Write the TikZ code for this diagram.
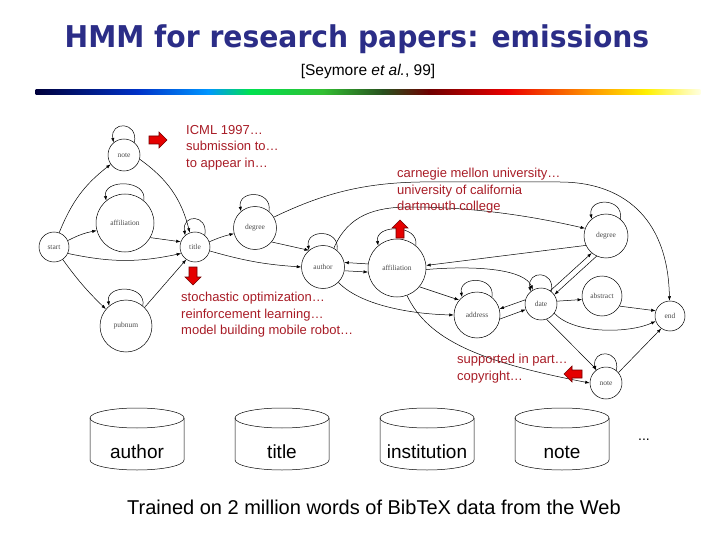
\documentclass[tikz,border=0pt]{standalone}
\usepackage{fontspec}
\setmainfont{Liberation Sans}
\newfontfamily\titrefont{DejaVu Sans}
\newfontfamily\etatfont{Liberation Serif}
\usepackage{xcolor}
\usetikzlibrary{arrows.meta, calc}

\definecolor{titrebleu}{RGB}{43,45,135}
\definecolor{texterouge}{RGB}{168,28,38}
\definecolor{rbA}{RGB}{0,0,60}
\definecolor{rbB}{RGB}{0,50,200}
\definecolor{rbC}{RGB}{0,150,255}
\definecolor{rbD}{RGB}{0,225,80}
\definecolor{rbE}{RGB}{50,190,50}
\definecolor{rbF}{RGB}{40,80,30}
\definecolor{rbG}{RGB}{110,0,0}
\definecolor{rbH}{RGB}{235,0,0}
\definecolor{rbI}{RGB}{255,150,0}
\definecolor{rbJ}{RGB}{255,240,0}
\definecolor{rbK}{RGB}{255,255,225}

% boucle sur un etat
\newcommand{\boucle}[1]{\draw[trans] (#1.50) .. controls +(80:22) and +(100:22) .. (#1.130);}
% fleche rouge (x, y, angle)
\newcommand{\flecherouge}[3]{%
  \filldraw[fill=red!90!black, draw=red!45!black, line width=0.6pt, shift={(#1,#2)}, rotate=#3]
    (-9,-4) -- (1,-4) -- (1,-8) -- (9,0) -- (1,8) -- (1,4) -- (-9,4) -- cycle;}

\begin{document}
\begin{tikzpicture}[
        x=1pt, y=1pt,
        >={Latex[length=4.5pt,width=3.2pt]},
        etat/.style={circle, draw, line width=0.5pt, inner sep=0pt, minimum size=#1,
            text=black!70, font=\etatfont\fontsize{7.5}{7.5}\selectfont},
        trans/.style={->, line width=0.5pt},
        emission/.style={text=texterouge, font=\fontsize{13}{16.5}\selectfont,
            align=left, anchor=north west, inner sep=0pt},
        cyl/.style={line width=0.5pt},
        champ/.style={font=\fontsize{19}{19}\selectfont}
    ]
        \useasboundingbox (0,0) rectangle (720,-540);

        % --- Titre ---
        \node[text=titrebleu, anchor=base, font=\titrefont\bfseries\fontsize{30}{30}\selectfont]
            (titre) at (357,-48) {\scalebox{0.94}[1]{HMM for research papers: emissions}};
        \node[anchor=base, font=\fontsize{15.5}{15.5}\selectfont] (ref) at (368,-76)
            {[Seymore \textit{et al.}, 99]};

        % --- Barre arc-en-ciel ---
        \foreach \xa/\xb/\ca/\cb in {36/138/rbA/rbB, 138/208/rbB/rbC, 208/250/rbC/rbD,
                250/323/rbD/rbE, 323/383/rbE/rbF, 383/429/rbF/rbG, 429/508/rbG/rbH,
                508/591/rbH/rbI, 591/646/rbI/rbJ, 646/700/rbJ/rbK}
            \shade[left color=\ca, right color=\cb] (\xa-0.3,-89.5) rectangle (\xb+0.3,-95);

        % --- Etats ---
        \node[etat=30pt] (start)   at (54,-247)  {start};
        \node[etat=32pt] (noteA)   at (124,-155) {note};
        \node[etat=58pt] (affA)    at (125,-223) {affiliation};
        \node[etat=52pt] (pubnum)  at (126,-326) {pubnum};
        \node[etat=30pt] (titreS)  at (195,-247) {title};
        \node[etat=43pt] (degA)    at (255,-228) {degree};
        \node[etat=43pt] (auteur)  at (323,-267) {author};
        \node[etat=58pt] (affB)    at (397,-268) {affiliation};
        \node[etat=46pt] (adresse) at (477,-315) {address};
        \node[etat=32pt] (date)    at (541,-304) {date};
        \node[etat=44pt] (degB)    at (606,-236) {degree};
        \node[etat=40pt] (resume)  at (602,-296) {abstract};
        \node[etat=30pt] (fin)     at (670,-316) {end};
        \node[etat=32pt] (noteB)   at (606,-383) {note};

        % --- Boucles ---
        \foreach \e in {noteA, affA, pubnum, titreS, degA, auteur, affB, adresse, date, degB, noteB}
            {\boucle{\e}}

        % --- Transitions ---
        \draw[trans] (start.70) to[bend left=15] (noteA.215);
        \draw[trans] (start.25) to[bend left=8] (affA.195);
        \draw[trans] (start.-25) to[bend right=12] (titreS.205);
        \draw[trans] (start.-55) to[bend right=5] (pubnum.140);
        \draw[trans] (noteA.-15) to[bend left=20] (titreS.110);
        \draw[trans] (affA.-30) -- (titreS.160);
        \draw[trans] (pubnum.45) -- (titreS.235);
        \draw[trans] (titreS.20) to[bend left=5] (degA.195);
        \draw[trans] (titreS.-15) to[bend right=6] (auteur.180);
        \draw[trans] (degA.-40) -- (auteur.130);
        \draw[trans] (degA.30) .. controls (320,-195) and (360,-183) .. (420,-182)
            -- (560,-182) .. controls (620,-182) and (668,-215) .. (fin.92);
        \draw[trans] (auteur.-10) -- (affB.188);
        \draw[trans] (affB.172) -- (auteur.12);
        \draw[trans] (auteur.60) .. controls (348,-215) and (375,-207) .. (410,-207)
            .. controls (480,-207) and (540,-218) .. (degB.160);
        \draw[trans] (auteur.-45) .. controls (360,-305) and (410,-314) .. (adresse.180);
        \draw[trans] (affB.-40) -- (adresse.140);
        \draw[trans] (affB.-70) .. controls (428,-340) and (480,-362) .. (noteB.180);
        \draw[trans] (degB.205) -- (affB.5);
        \draw[trans] (affB.-3) .. controls (480,-265) and (525,-270) .. (date.120);
        \draw[trans] (date.165) -- (adresse.15);
        \draw[trans] (adresse.-10) -- (date.200);
        \draw[trans] (date.55) -- (degB.230);
        \draw[trans] (degB.245) -- (date.35);
        \draw[trans] (date.10) -- (resume.190);
        \draw[trans] (date.-35) .. controls (575,-335) and (630,-333) .. (fin.200);
        \draw[trans] (date.-70) -- (noteB.125);
        \draw[trans] (resume.-30) -- (fin.160);
        \draw[trans] (noteB.40) -- (fin.235);

        % --- Emissions ---
        \node[emission] (emA) at (186,-125) {ICML 1997…\\submission to…\\to appear in…};
        \node[emission] (emB) at (397,-168) {carnegie mellon university…\\university of california\\dartmouth college};
        \node[emission] (emC) at (181,-292) {stochastic optimization…\\reinforcement learning…\\model building mobile robot…};
        \node[emission] (emD) at (457,-354) {supported in part…\\copyright…};

        \flecherouge{158}{-140}{0}
        \flecherouge{193}{-276}{-90}
        \flecherouge{400}{-229}{90}
        \flecherouge{573}{-374}{180}

        % --- Bases de donnees ---
        \foreach \cx/\lab/\nm in {137/author/bdA, 282/title/bdB, 427/institution/bdC, 562/note/bdD} {
            \draw[cyl] (\cx-47,-418) -- (\cx-47,-460) arc[start angle=180, end angle=360, x radius=47, y radius=10]
                -- (\cx+47,-418);
            \draw[cyl] (\cx,-418) ellipse[x radius=47, y radius=10];
            \node[champ] (\nm) at (\cx,-452) {\lab};
        }
        \node[font=\fontsize{14}{14}\selectfont] (etc) at (644,-440) {...};

        \node[font=\fontsize{20}{20}\selectfont] (legende) at (374,-507)
            {Trained on 2 million words of BibTeX data from the Web};

    \end{tikzpicture}
\end{document}
